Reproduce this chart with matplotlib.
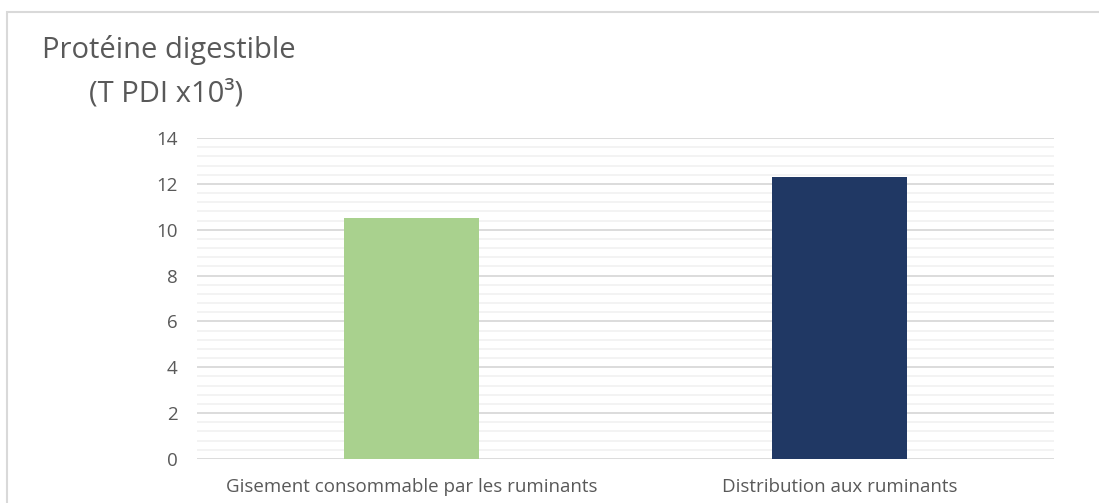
import matplotlib
matplotlib.use("Agg")
import matplotlib.pyplot as plt
from matplotlib.patches import Rectangle
from matplotlib.ticker import MultipleLocator

categories = ["Gisement consommable par les ruminants", "Distribution aux ruminants"]
values = [10.53, 12.32]
colors = ["#A9D18E", "#203864"]
title_line1 = "Protéine digestible"
title_line2 = "(T PDI x10³)"

plt.rcParams['font.family'] = ['Open Sans', 'DejaVu Sans']

W, H = 1099, 503
fig = plt.figure(figsize=(W / 100, H / 100), dpi=100)
fig.patch.set_facecolor("white")

# outer chart border
fig.patches.append(Rectangle((7 / W, -0.1), 1.2, (H - 12) / H + 0.1,
                             transform=fig.transFigure, fill=False,
                             edgecolor="#d9d9d9", linewidth=1.5))

ax = fig.add_axes([197 / W, (H - 459) / H, (1054 - 197) / W, (459 - 138) / H])
x = range(len(categories))
ax.bar(x, values, width=0.315, color=colors, zorder=3)
ax.set_xlim(-0.5, len(categories) - 0.5)
ax.set_ylim(0, 14)
ax.yaxis.set_major_locator(MultipleLocator(2))
ax.yaxis.set_minor_locator(MultipleLocator(0.4))
ax.grid(which="major", axis="y", color="#d9d9d9", linewidth=1.3, zorder=1)
ax.grid(which="minor", axis="y", color="#f2f2f2", linewidth=1.3, zorder=0)
for s in ax.spines.values():
    s.set_visible(False)
ax.tick_params(which="both", length=0)
ax.tick_params(axis="y", labelsize=13.5, labelcolor="#595959", pad=14)
ax.tick_params(axis="x", labelsize=13.5, labelcolor="#595959", pad=14)
ax.set_xticks(list(x))
ax.set_xticklabels(categories)

fig.text(42 / W, 1 - 50 / H, title_line1, fontsize=21, color="#595959",
         ha="left", va="center")
fig.text(89 / W, 1 - 94 / H, title_line2, fontsize=21, color="#595959",
         ha="left", va="center")

fig.savefig("out.png", dpi=100)
